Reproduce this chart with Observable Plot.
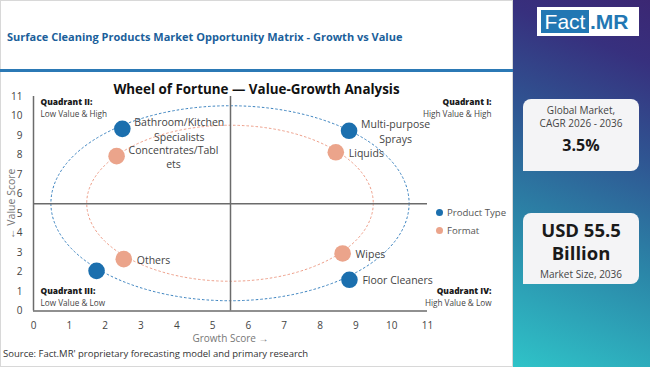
<!DOCTYPE html>
<html>
<head>
<meta charset="utf-8">
<script src="https://cdn.jsdelivr.net/npm/d3@7"></script>
<script src="https://cdn.jsdelivr.net/npm/@observablehq/plot@0.6"></script>
<style>
  html, body { margin: 0; padding: 0; }
  body { width: 650px; height: 367px; position: relative; overflow: hidden; font-family: "Open Sans", sans-serif; background: #fff; }
  .abs { position: absolute; }
  #leftPanel { left: 0; top: 0; width: 513px; height: 367px; box-sizing: border-box; border: 1px solid #d8d8d8; background: #fff; }
  #rightPanel { left: 513px; top: 0; width: 137px; height: 367px;
    background: linear-gradient(22deg, #2fc3c8 0%, #2b86a8 35%, #2f5592 62%, #37307e 85%, #3b2773 100%); }
  #title { left: 7px; top: 29px; font-size: 11px; font-weight: 700; color: #1b5f9b; white-space: nowrap; }
  #rule { left: 0; top: 69px; width: 513px; height: 3px; background: #2b79b5; }
  #chartTitle { left: 0; top: 80px; width: 513px; text-align: center; font-size: 13.4px; font-weight: 700; color: #111; white-space: nowrap; }
  #chart { left: 0; top: 75px; }
  #legend { left: 436px; top: 203px; font-size: 9.6px; color: #555; }
  #legend .item { display: flex; align-items: center; height: 18.5px; }
  #legend .sw { width: 7px; height: 7px; border-radius: 50%; margin-right: 4px; }
  #source { left: 3px; top: 347px; font-size: 9.5px; color: #333; white-space: nowrap; }
  #logo { left: 537px; top: 7px; width: 102px; height: 29px; background: #fff; }
  #logo .fact { position: absolute; left: 4px; top: 3px; width: 48px; height: 23px; background: #2277b3; color: #fff; font-size: 21px; line-height: 23px; text-align: center; font-family: "Liberation Sans", Arial, sans-serif; }
  #logo .mr { position: absolute; left: 53px; top: 3px; height: 23px; color: #2277b3; font-size: 21px; line-height: 23px; font-family: "Liberation Sans", Arial, sans-serif; font-weight: 700; }
  .card { left: 523px; width: 116px; background: #f4f4f6; border-radius: 8px 8px 8px 0; text-align: center; color: #333; }
  #card1 { top: 99px; height: 72px; }
  #card2 { top: 213px; height: 71px; }
  .small { font-size: 10px; line-height: 13px; color: #444; }
  .big { font-weight: 700; color: #1a1a1a; }
</style>
</head>
<body>
<div id="leftPanel" class="abs"></div>
<div id="rightPanel" class="abs"></div>
<div id="title" class="abs">Surface Cleaning Products Market Opportunity Matrix - Growth vs Value</div>
<div id="rule" class="abs"></div>
<div id="chart" class="abs"></div>
<div id="chartTitle" class="abs">Wheel of Fortune — Value-Growth Analysis</div>
<div id="legend" class="abs"></div>
<div id="source" class="abs">Source: Fact.MR' proprietary forecasting model and primary research</div>
<div id="logo" class="abs"><div class="fact">Fact</div><div class="mr">.MR</div></div>
<div id="card1" class="abs card">
  <div class="small" style="padding-top:5px">Global Market,<br>CAGR 2026 - 2036</div>
  <div class="big" style="font-size:16px; margin-top:4px">3.5%</div>
</div>
<div id="card2" class="abs card">
  <div class="big" style="font-size:18.5px; line-height:23px; padding-top:5px">USD 55.5<br>Billion</div>
  <div class="small" style="margin-top:4px">Market Size, 2036</div>
</div>
<script>
// ---- data ----
const seriesNames = ["Product Type", "Format"];
const seriesColors = ["#1b6fae", "#eba48b"];

const productLabels = ["Bathroom/Kitchen\nSpecialists", "Multi-purpose\nSprays", "Floor Cleaners", ""];
const productGrowth = [2.48, 8.81, 8.82, 1.76];
const productValue = [9.34, 9.24, 1.60, 2.06];

const formatLabels = ["Concentrates/Tabl\nets", "Liquids", "Wipes", "Others"];
const formatGrowth = [2.32, 8.44, 8.63, 2.52];
const formatValue = [7.94, 8.14, 2.95, 2.66];

const ringRadii = [5, 4];          // Product Type ring, Format ring
const midpoints = [5.5];
const xTicks = [0, 1, 2, 3, 4, 5, 6, 7, 8, 9, 10, 11];
const yTicks = [0, 1, 2, 3, 4, 5, 6, 7, 8, 9, 10, 11];

const quadTitles = ["Quadrant I:", "Quadrant II:", "Quadrant III:", "Quadrant IV:"];
const quadSubs = ["High Value & High", "Low Value & High", "Low Value & Low", "High Value & Low"];

// ---- table ----
const points = [
  ...productLabels.map((label, i) => ({series: seriesNames[0], label, growth: productGrowth[i], value: productValue[i]})),
  ...formatLabels.map((label, i) => ({series: seriesNames[1], label, growth: formatGrowth[i], value: formatValue[i]}))
];

const FONT = "Open Sans, sans-serif";
const LABEL_SIZE = 10.5;
const ctx = document.createElement("canvas").getContext("2d");
ctx.font = `${LABEL_SIZE}px ${FONT}`;
const textW = s => Math.max(...s.split("\n").map(l => ctx.measureText(l).width));

const colorOf = s => seriesColors[seriesNames.indexOf(s)];

const labelMarks = points.filter(d => d.label).map(d => {
  const multi = d.label.includes("\n");
  return Plot.text([d], {
    x: "growth", y: "value", text: "label",
    textAnchor: multi ? "middle" : "start",
    dx: multi ? 12 + textW(d.label) / 2 : 13,
    fontSize: LABEL_SIZE, fill: "#444", lineHeight: 1.38
  });
});

const ringMark = (index, scales) => {
  const g = d3.create("svg:g");
  const c = midpoints[0];
  ringRadii.forEach((r, i) => {
    g.append("ellipse")
      .attr("cx", scales.x(c)).attr("cy", scales.y(c))
      .attr("rx", scales.x(c + r) - scales.x(c))
      .attr("ry", scales.y(c) - scales.y(c + r))
      .attr("fill", "none")
      .attr("stroke", i === 0 ? "#3a82bf" : "#ee9f8a")
      .attr("stroke-width", 1)
      .attr("stroke-dasharray", "2.5,2");
  });
  return g.node();
};

const quadTitleMark = (i, anchor, dx, dy) =>
  Plot.text([quadTitles[i]], {frameAnchor: anchor, text: d => d, dx, dy, fontWeight: 800, fontSize: 8.4, fill: "#1a1a1a", lineAnchor: "middle"});
const quadSubMark = (i, anchor, dx, dy) =>
  Plot.text([quadSubs[i]], {frameAnchor: anchor, text: d => d, dx, dy, fontSize: 8.2, fill: "#444", lineAnchor: "middle"});

const chart = Plot.plot({
  width: 513, height: 292,
  marginTop: 21, marginBottom: 56.5, marginLeft: 33, marginRight: 86,
  style: {fontFamily: FONT, fontSize: "10px", color: "#444", background: "transparent", overflow: "visible"},
  x: {domain: [0, 11], label: null},
  y: {domain: [0, 11], label: null},
  marks: [
    Plot.axisX({ticks: xTicks, tickSize: 0, tickPadding: 11, label: null, fontSize: 10}),
    Plot.axisY({ticks: yTicks, tickSize: 0, tickPadding: 11, label: null, fontSize: 10}),
    ringMark,
    Plot.ruleX(midpoints, {stroke: "#6b6b6b", strokeWidth: 1.5}),
    Plot.ruleY(midpoints, {stroke: "#6b6b6b", strokeWidth: 1.5}),
    Plot.ruleX([0], {stroke: "#6b6b6b", strokeWidth: 1.5}),
    Plot.ruleY([0], {stroke: "#6b6b6b", strokeWidth: 1.5}),
    Plot.dot(points, {x: "growth", y: "value", r: 8.3, fill: d => colorOf(d.series), stroke: "none"}),
    ...labelMarks,
    quadTitleMark(1, "top-left", 7, 6),
    quadSubMark(1, "top-left", 7, 17.5),
    quadTitleMark(0, "top-right", 64, 6),
    quadSubMark(0, "top-right", 64, 17.5),
    quadTitleMark(2, "bottom-left", 7, -19.5),
    quadSubMark(2, "bottom-left", 7, -7.5),
    quadTitleMark(3, "bottom-right", 64, -19.5),
    quadSubMark(3, "bottom-right", 64, -7.5),
    Plot.text(["Growth Score →"], {frameAnchor: "bottom", text: d => d, dy: 27.5, fontSize: 10, fill: "#777", lineAnchor: "middle"}),
    Plot.text(["← Value Score"], {frameAnchor: "left", text: d => d, dx: -22, rotate: -90, fontSize: 10.5, fill: "#777", textAnchor: "middle", lineAnchor: "middle"})
  ]
});
document.getElementById("chart").appendChild(chart);

// legend
const legend = d3.select("#legend");
seriesNames.forEach((s, i) => {
  const it = legend.append("div").attr("class", "item");
  it.append("div").attr("class", "sw").style("background", seriesColors[i]);
  it.append("span").text(s);
});
</script>
</body>
</html>
